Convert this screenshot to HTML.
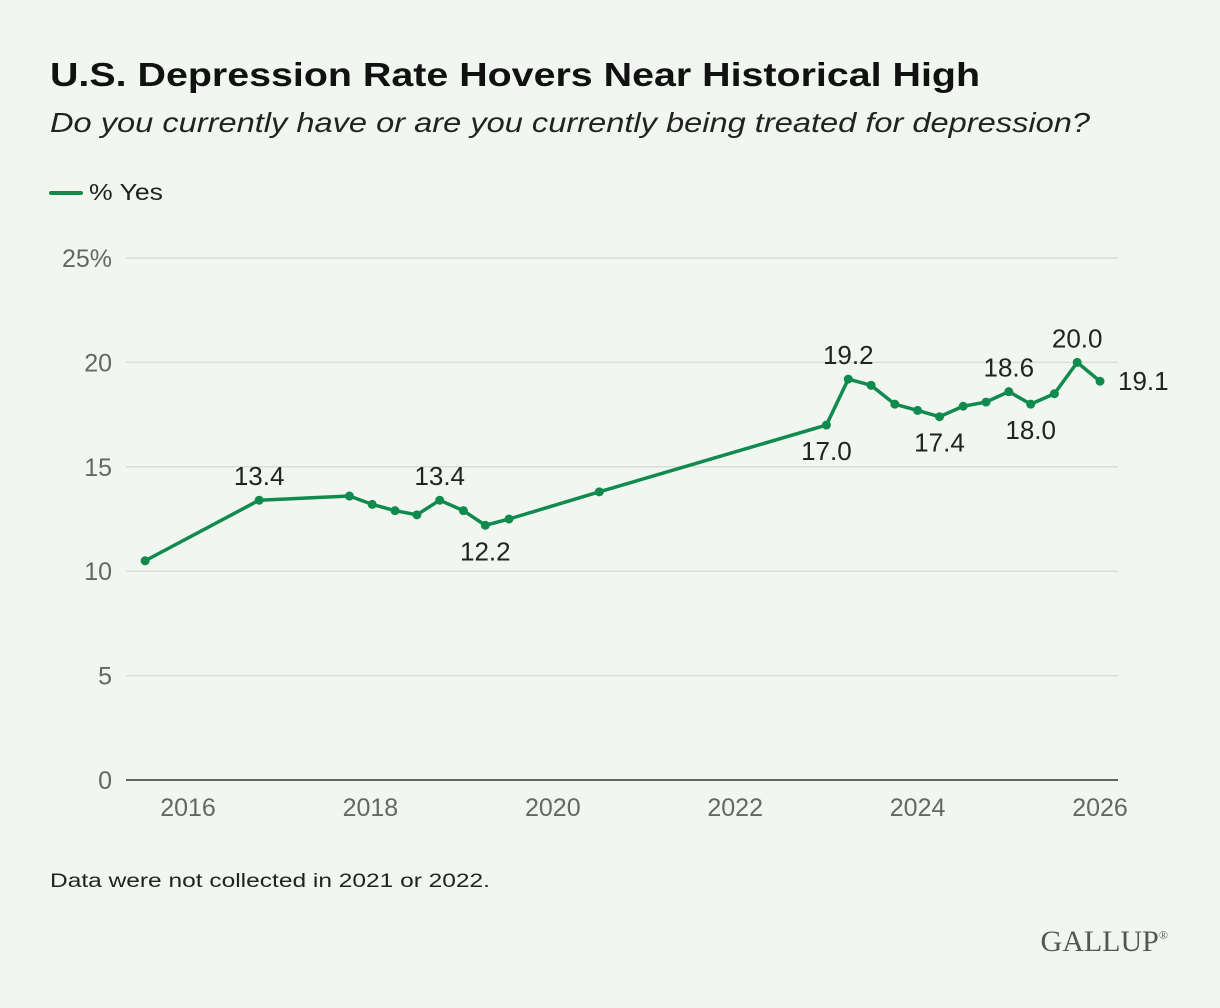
<!DOCTYPE html>
<html><head><meta charset="utf-8"><style>
body{margin:0;background:#f1f7f0;}
svg{display:block;font-family:"Liberation Sans",sans-serif;}
</style></head><body>
<svg id="c" width="1220" height="1008">
<rect width="1220" height="1008" fill="#f1f7f0"/>
<text x="50" y="86" font-size="33" font-weight="bold" fill="#111" textLength="930" lengthAdjust="spacingAndGlyphs">U.S. Depression Rate Hovers Near Historical High</text>
<text x="50" y="132" font-size="28" font-style="italic" fill="#222" textLength="1040" lengthAdjust="spacingAndGlyphs">Do you currently have or are you currently being treated for depression?</text>
<line x1="51" y1="193" x2="81" y2="193" stroke="#118a4e" stroke-width="4" stroke-linecap="round"/>
<text x="89" y="200" font-size="23" fill="#222" textLength="74" lengthAdjust="spacingAndGlyphs">% Yes</text>
<g id="grid"></g><g id="xt"></g><g id="series"></g>
<text x="50" y="887" font-size="19" fill="#222" textLength="440" lengthAdjust="spacingAndGlyphs">Data were not collected in 2021 or 2022.</text>
<text x="1168" y="951" font-size="30" text-anchor="end" fill="#555" font-family="Liberation Serif,serif">GALLUP<tspan font-size="12" dy="-12">®</tspan></text>
</svg>
<script>
const years=[2015.53,2016.78,2017.77,2018.02,2018.27,2018.51,2018.76,2019.02,2019.26,2019.52,2020.51,2023.0,2023.24,2023.49,2023.75,2024.0,2024.24,2024.5,2024.75,2025.0,2025.24,2025.5,2025.75,2026.0];
const values=[10.5,13.4,13.6,13.2,12.9,12.7,13.4,12.9,12.2,12.5,13.8,17.0,19.2,18.9,18.0,17.7,17.4,17.9,18.1,18.6,18.0,18.5,20.0,19.1];
const labelIdx=[1,6,8,11,12,16,19,20,22,23];
const labelPos=["above","above","below","below","above","below","above","below","above","right"];
const yTicks=[0,5,10,15,20,25];
const xTicks=[2016,2018,2020,2022,2024,2026];
const NS="http://www.w3.org/2000/svg";
const X=y=>188+(y-2016)*91.2;
const Y=v=>780-v*20.88;
function mk(t,a,p,txt){const e=document.createElementNS(NS,t);for(const k in a)e.setAttribute(k,a[k]);if(txt!=null)e.textContent=txt;p.appendChild(e);return e;}
const grid=document.getElementById('grid'),xt=document.getElementById('xt'),s=document.getElementById('series');
yTicks.forEach(v=>{
 const l=mk('line',{x1:126,x2:1118,y1:Y(v),y2:Y(v),stroke:v===0?'#333':'#d9ded8','stroke-width':1.5},grid);
 
 
 const t=mk('text',{x:112,y:Y(v)+9,'font-size':25,fill:'#666','text-anchor':'end'},grid,v===25?'25%':String(v));
 
 
});
xTicks.forEach(y=>{
 const t=mk('text',{x:X(y),y:816,'font-size':25,fill:'#666','text-anchor':'middle'},xt,String(y));
 
 
});
const pl=mk('polyline',{points:years.map((y,i)=>X(y)+','+Y(values[i])).join(' '),fill:'none',stroke:'#118a4e','stroke-width':3.5,'stroke-linejoin':'round'},s);


years.forEach((y,i)=>{
 const c=mk('circle',{cx:X(y),cy:Y(values[i]),r:4.5,fill:'#118a4e'},s);
 
 
});
labelIdx.forEach((i,k)=>{
 const p=labelPos[k];let x=X(years[i]),y=Y(values[i]),a='middle';
 if(p==='above')y-=15;else if(p==='below')y+=35;else{x+=18;y+=9;a='start';}
 const t=mk('text',{x:x,y:y,'font-size':26,fill:'#222','text-anchor':a},s,values[i].toFixed(1));
 
 
});
</script>
</body></html>
